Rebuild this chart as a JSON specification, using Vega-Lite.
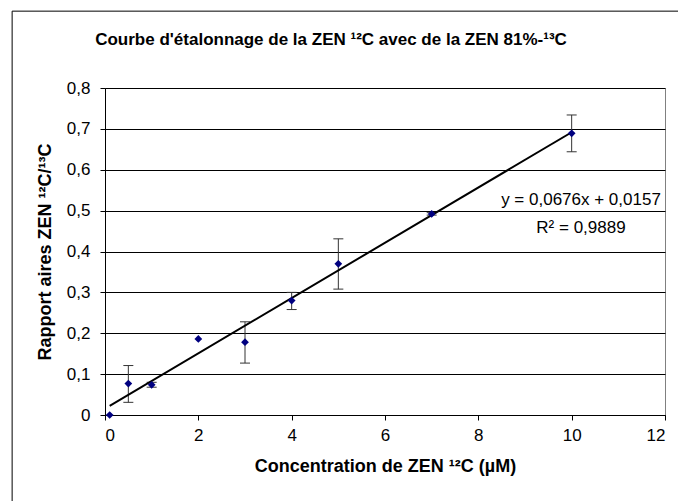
{
  "$schema": "https://vega.github.io/schema/vega-lite/v6.json",
  "autosize": "none",
  "width": 560,
  "height": 327,
  "padding": {"left": 105, "top": 88, "right": 13, "bottom": 86},
  "background": "white",
  "config": {
    "font": "Liberation Sans",
    "view": {"stroke": "#808080", "strokeWidth": 1},
    "axis": {
      "labelFont": "Liberation Sans",
      "labelFontSize": 17,
      "labelColor": "#000",
      "titleFont": "Liberation Sans",
      "titleFontSize": 18,
      "titleFontWeight": "bold",
      "titleColor": "#000",
      "domainColor": "#000",
      "tickColor": "#000",
      "tickSize": 5,
      "gridColor": "#000",
      "gridOpacity": 1
    }
  },
  "title": {
    "text": "Courbe d'étalonnage de la ZEN ¹²C avec de la ZEN 81%-¹³C",
    "font": "Liberation Sans",
    "fontSize": 17,
    "fontWeight": "bold",
    "color": "#000",
    "anchor": "middle",
    "frame": "group",
    "dx": -54,
    "offset": -38
  },
  "data": {
    "values": [
      {"conc": 0.1, "ratio": 0.000, "lo": null, "hi": null},
      {"conc": 0.5, "ratio": 0.077, "lo": 0.031, "hi": 0.121},
      {"conc": 1, "ratio": 0.074, "lo": 0.068, "hi": 0.080},
      {"conc": 2, "ratio": 0.186, "lo": null, "hi": null},
      {"conc": 3, "ratio": 0.178, "lo": 0.127, "hi": 0.228},
      {"conc": 4, "ratio": 0.280, "lo": 0.258, "hi": 0.300},
      {"conc": 5, "ratio": 0.370, "lo": 0.308, "hi": 0.431},
      {"conc": 7, "ratio": 0.492, "lo": 0.489, "hi": 0.495},
      {"conc": 10, "ratio": 0.689, "lo": 0.644, "hi": 0.734}
    ]
  },
  "encoding": {
    "x": {
      "field": "conc",
      "type": "quantitative",
      "scale": {"domain": [0, 12], "nice": false},
      "axis": {
        "title": "Concentration de ZEN ¹²C (µM)",
        "values": [0, 2, 4, 6, 8, 10, 12],
        "grid": false,
        "labelPadding": 7,
        "titlePadding": 14
      }
    },
    "y": {
      "field": "ratio",
      "type": "quantitative",
      "scale": {"domain": [0, 0.8], "nice": false},
      "axis": {
        "title": "Rapport aires ZEN ¹²C/¹³C",
        "values": [0, 0.1, 0.2, 0.3, 0.4, 0.5, 0.6, 0.7, 0.8],
        "grid": true,
        "labelExpr": "datum.value == 0 ? '0' : replace(format(datum.value, '.1f'), '.', ',')",
        "labelPadding": 10,
        "titlePadding": 12
      }
    }
  },
  "layer": [
    {
      "transform": [{"filter": "datum.conc == 10"}],
      "mark": {"type": "rule", "color": "#000", "strokeWidth": 1, "clip": false},
      "encoding": {
        "x": {"datum": -1.99},
        "y": {"datum": -2.2},
        "y2": {"datum": 0.988}
      }
    },
    {
      "transform": [{"filter": "datum.conc == 10"}],
      "mark": {"type": "rule", "color": "#000", "strokeWidth": 1, "clip": false},
      "encoding": {
        "y": {"datum": 0.988},
        "x": {"datum": -1.99},
        "x2": {"datum": 12.4}
      }
    },
    {
      "transform": [{"filter": "datum.lo != null"}],
      "mark": {"type": "rule", "color": "#333", "strokeWidth": 1},
      "encoding": {
        "y": {"field": "lo", "type": "quantitative"},
        "y2": {"field": "hi"}
      }
    },
    {
      "transform": [{"filter": "datum.lo != null"}],
      "mark": {"type": "tick", "orient": "horizontal", "color": "#333", "size": 10, "thickness": 1, "opacity": 1},
      "encoding": {"y": {"field": "lo", "type": "quantitative"}}
    },
    {
      "transform": [{"filter": "datum.hi != null"}],
      "mark": {"type": "tick", "orient": "horizontal", "color": "#333", "size": 10, "thickness": 1, "opacity": 1},
      "encoding": {"y": {"field": "hi", "type": "quantitative"}}
    },
    {
      "transform": [{"regression": "ratio", "on": "conc", "method": "linear", "extent": [0.1, 10]}],
      "mark": {"type": "line", "color": "#000", "strokeWidth": 2},
      "encoding": {}
    },
    {
      "mark": {"type": "point", "shape": "diamond", "filled": true, "color": "#000080", "size": 60, "opacity": 1},
      "encoding": {}
    },
    {
      "transform": [{"filter": "datum.conc == 10"}],
      "mark": {"type": "text", "font": "Liberation Sans", "fontSize": 17, "fontWeight": "normal", "color": "#000", "align": "center", "baseline": "middle"},
      "encoding": {
        "x": {"datum": 10.2},
        "y": {"datum": 0.526},
        "text": {"value": "y = 0,0676x + 0,0157"}
      }
    },
    {
      "transform": [{"filter": "datum.conc == 10"}],
      "mark": {"type": "text", "font": "Liberation Sans", "fontSize": 17, "fontWeight": "normal", "color": "#000", "align": "center", "baseline": "middle"},
      "encoding": {
        "x": {"datum": 10.2},
        "y": {"datum": 0.4575},
        "text": {"value": "R² = 0,9889"}
      }
    }
  ]
}
